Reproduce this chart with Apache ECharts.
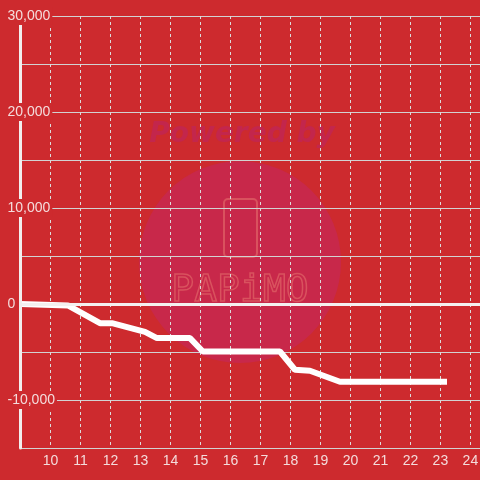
<!DOCTYPE html>
<html>
<head>
<meta charset="utf-8">
<script src="https://cdn.jsdelivr.net/npm/echarts@6/dist/echarts.min.js"></script>
<style>
  html, body { margin: 0; padding: 0; background: #cd2a2e; }
  #chart { width: 480px; height: 480px; }
</style>
</head>
<body>
<div id="chart"></div>
<script>
// hour of day (x) and running balance (y)
const hours = [9.0, 10.58, 11.65, 12.05, 13.15, 13.55, 14.65, 15.08, 17.65, 18.15, 18.65, 19.65, 23.22]
const balance = [0, -150, -2000, -2000, -2900, -3550, -3550, -4950, -4950, -6850, -6950, -8100, -8100]

const yMin = -15000
const yMax = 30000
const yStep = 5000
const xMin = 9
const xMax = 24.32

const bg = '#cd2a2e'
const labelColor = '#f4dcdc'

const chart = echarts.init(document.getElementById('chart'))

const yBase = {
  type: 'value',
  min: yMin,
  max: yMax,
  interval: yStep,
  position: 'left'
}

const option = {
  backgroundColor: bg,
  animation: false,
  grid: { left: 20.5, right: 0, top: 16, bottom: 32, outerBoundsMode: 'none', containLabel: false },
  graphic: {
    elements: [
      {
        type: 'circle', z: -1, silent: true,
        shape: { cx: 240, cy: 262, r: 101 },
        style: { fill: '#c8284a' }
      },
      {
        type: 'text', z: -1, silent: true,
        x: 242, y: 135,
        style: {
          text: 'Powered by', fill: '#c3264c',
          font: 'oblique bold 28px "DejaVu Sans", sans-serif',
          align: 'center', verticalAlign: 'middle'
        }
      },
      {
        type: 'rect', z: -1, silent: true,
        shape: { x: 224, y: 199, width: 33, height: 58, r: 4 },
        style: { fill: 'none', stroke: '#d9525e', lineWidth: 2 }
      },
      {
        type: 'text', z: -1, silent: true,
        x: 240, y: 291,
        style: {
          text: 'PAPiMO', fill: 'none', stroke: '#d9525e', lineWidth: 1.5,
          font: '38px "DejaVu Sans Mono", monospace',
          align: 'center', verticalAlign: 'middle'
        }
      }
    ]
  },
  xAxis: {
    type: 'value',
    min: xMin,
    max: xMax,
    interval: 1,
    axisLine: { show: false },
    axisTick: { show: false },
    axisLabel: {
      color: labelColor,
      fontSize: 14,
      fontFamily: 'Liberation Sans, Arial, sans-serif',
      margin: 6,
      formatter: v => (Number.isInteger(v) && v > xMin) ? String(v) : ''
    },
    splitLine: {
      show: true,
      lineStyle: { color: '#dcdcdc', width: 1, type: [3, 3] }
    }
  },
  yAxis: [
    Object.assign({}, yBase, {
      z: 0,
      axisLine: { show: false },
      axisTick: { show: false },
      axisLabel: { show: false },
      splitLine: { show: true, lineStyle: { color: '#d2d2d2', width: 1 } }
    }),
    Object.assign({}, yBase, {
      z: 5,
      axisLine: { show: true, lineStyle: { color: '#f2eeee', width: 3 } },
      axisTick: { show: false },
      splitLine: { show: false },
      axisLabel: {
        color: labelColor,
        fontSize: 14,
        fontFamily: 'Liberation Sans, Arial, sans-serif',
        align: 'left',
        margin: 15,
        backgroundColor: bg,
        padding: [2, 2],
        formatter: v => (v % 10000 === 0 && v > yMin) ? v.toLocaleString('en-US') : ''
      }
    })
  ],
  series: [{
    type: 'line',
    yAxisIndex: 0,
    data: hours.map((h, i) => [h, balance[i]]),
    showSymbol: false,
    lineStyle: { color: '#ffffff', width: 6 },
    itemStyle: { color: '#ffffff' },
    markLine: {
      silent: true,
      symbol: 'none',
      label: { show: false },
      lineStyle: { color: '#f4f0f0', width: 3, type: 'solid' },
      data: [{ yAxis: 0 }]
    }
  }]
}

chart.setOption(option)
</script>
</body>
</html>
